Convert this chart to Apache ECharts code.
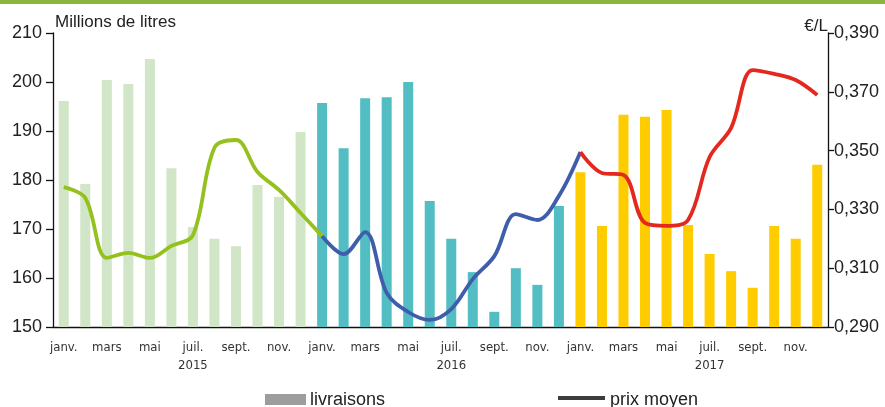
<!DOCTYPE html>
<html><head><meta charset="utf-8">
<script src="https://cdn.jsdelivr.net/npm/echarts@6.0.0/dist/echarts.min.js"></script>
<style>html,body{margin:0;padding:0;background:#fff;overflow:hidden}#c{width:885px;height:407px}</style>
</head><body><div id="c"></div>
<script>
// ---- data ----
const months = ['janv.','févr.','mars','avr.','mai','juin','juil.','août','sept.','oct.','nov.','déc.'];
const years = ['2015','2016','2017'];
const deliveries2015 = [196.1,179.2,200.4,199.6,204.7,182.4,170.4,168.0,166.5,179.0,176.6,189.8];
const deliveries2016 = [195.7,186.5,196.7,196.9,200.0,175.7,168.0,161.2,153.1,162.0,158.6,174.7];
const deliveries2017 = [181.6,170.6,193.3,192.9,194.3,170.8,164.9,161.4,158.0,170.6,168.0,183.1];
const price2015 = [0.3376,0.3339,0.3135,0.3152,0.3135,0.3176,0.3212,0.3510,0.3536,0.3427,0.3366,0.3288];
const price2016 = [0.3209,0.3148,0.3223,0.3016,0.2951,0.2924,0.2961,0.3063,0.3141,0.3284,0.3264,0.3346];
const price2017 = [0.3495,0.3424,0.3417,0.3254,0.3244,0.3264,0.3478,0.3577,0.3774,0.3761,0.3740,0.3689];
const leftTicks = {min:150, max:210, step:10};
const rightTicks = {min:0.29, max:0.39, step:0.02};
const legendLabels = ['livraisons','prix moyen'];
const axisNames = ['Millions de litres','€/L'];

// ---- styles ----
const barColors = ['#d1e5c7','#52bdc3','#ffcc00'];
const lineColors = ['#95c11f','#3e5eab','#e3281f'];
const NUM_FONT = "'Liberation Sans', Arial, sans-serif";
const NARROW_FONT = "'Liberation Sans Narrow', 'Arial Narrow', 'DejaVu Sans Condensed', sans-serif";

const categories = [];
years.forEach(y => months.forEach(m => categories.push(m + '|' + y)));
const deliveries = [deliveries2015, deliveries2016, deliveries2017];
const barData = [];
deliveries.forEach((arr, yi) => arr.forEach(v => barData.push({value: v, itemStyle: {color: barColors[yi]}})));

const N = categories.length;
const blank = n => Array(n).fill('-');
const greenData = price2015.concat([price2016[0]]).concat(blank(N - 13));
const blueData = blank(12).concat(price2016).concat([price2017[0]]).concat(blank(N - 25));
const redData = blank(24).concat(price2017);

const chart = echarts.init(document.getElementById('c'), null, {renderer: 'canvas'});
const lineSeries = (data, color) => ({
  type: 'line', yAxisIndex: 1, data: data, smooth: 0.35, showSymbol: false, symbol: 'none',
  connectNulls: false, lineStyle: {color: color, width: 3.8}, z: 3, animation: false
});
chart.setOption({
  animation: false,
  grid: {left: 53, right: 57, top: 33, bottom: 80},
  xAxis: {
    type: 'category', data: categories, boundaryGap: true,
    axisLine: {lineStyle: {color: '#111', width: 1.3}},
    axisTick: {interval: 0, length: 5, lineStyle: {color: '#111', width: 1.3}},
    axisLabel: {
      interval: 1, margin: 12, color: '#333', fontFamily: NARROW_FONT, fontSize: 13, lineHeight: 18,
      formatter: v => { const p = v.split('|'); return p[0] === months[6] ? p[0] + '\n' + p[1] : p[0]; }
    }
  },
  yAxis: [
    {
      type: 'value', min: leftTicks.min, max: leftTicks.max, interval: leftTicks.step,
      axisLine: {show: true, lineStyle: {color: '#111', width: 1.3}},
      axisTick: {show: true, length: 7, lineStyle: {color: '#111', width: 1.3}},
      splitLine: {show: false},
      axisLabel: {color: '#222', fontFamily: NUM_FONT, fontSize: 18, margin: 11}
    },
    {
      type: 'value', min: rightTicks.min, max: rightTicks.max, interval: rightTicks.step, position: 'right',
      axisLine: {show: true, lineStyle: {color: '#111', width: 1.3}},
      axisTick: {show: true, length: 6, lineStyle: {color: '#111', width: 1.3}},
      splitLine: {show: false},
      axisLabel: {color: '#222', fontFamily: NUM_FONT, fontSize: 18, margin: 6,
        formatter: v => v.toFixed(3).replace('.', ',')}
    }
  ],
  series: [
    {type: 'bar', data: barData, barWidth: 10, z: 2, yAxisIndex: 0},
    lineSeries(greenData, lineColors[0]),
    lineSeries(blueData, lineColors[1]),
    lineSeries(redData, lineColors[2])
  ],
  graphic: [
    {type: 'rect', left: 0, top: 0, shape: {width: 885, height: 4}, style: {fill: '#8cb53d'}},
    {type: 'text', left: 55, top: 14, style: {text: axisNames[0], font: "17px " + NUM_FONT, fill: '#222'}},
    {type: 'text', right: 57, top: 18, style: {text: axisNames[1], font: "17px " + NUM_FONT, fill: '#222'}},
    {type: 'rect', left: 265, top: 394, shape: {width: 41, height: 11}, style: {fill: '#9d9d9c'}},
    {type: 'text', left: 310, top: 391, style: {text: legendLabels[0], font: "18px " + NUM_FONT, fill: '#222'}},
    {type: 'rect', left: 558, top: 396, shape: {width: 47, height: 4}, style: {fill: '#3c3c3b'}},
    {type: 'text', left: 610, top: 391, style: {text: legendLabels[1], font: "18px " + NUM_FONT, fill: '#222'}}
  ]
});
</script>
</body></html>
